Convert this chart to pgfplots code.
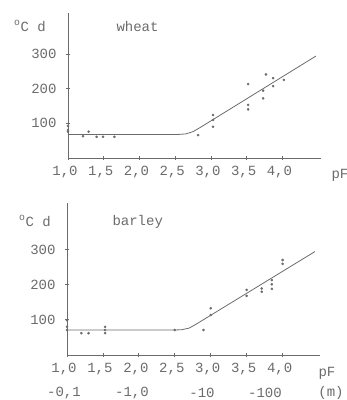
\documentclass[border=0pt]{standalone}
\usepackage{fontspec}
\setmainfont{Liberation Mono}
\usepackage{pgfplots}
\pgfplotsset{compat=1.18}
\definecolor{ink}{gray}{0.42}
\pgfplotsset{myax/.style={
  scale only axis, width=253pt,
  axis x line=bottom, axis y line=left,
  axis line style={ink, line width=0.8pt, -},
  xmin=1, ymin=0, clip=false,
  xtick={1,1.5,2,2.5,3,3.5,4},
  xticklabels={{1,0},{1,5},{2,0},{2,5},{3,0},{3,5},{4,0}},
  ytick={100,200,300},
  tick align=center, major tick length=4pt,
  tick style={ink, line width=0.8pt},
  /pgf/number format/assume math mode=true,
  every tick label/.append style={font=\fontsize{14}{16}\selectfont, text=ink},
  xticklabel style={xshift=-3pt, yshift=-3pt},
  yticklabel style={xshift=-6pt},
}}
\begin{document}
\begin{tikzpicture}[font=\fontsize{14}{16}\selectfont]
\useasboundingbox (0,0) rectangle (347pt,400pt);
% wheat
\begin{axis}[myax, at={(68pt,242pt)}, anchor=south west, height=145pt, xmax=4.54, ymax=418]
\addplot[ink, line width=0.8pt] coordinates {(1,68) (2.55,68) (2.65,69.5) (2.75,76) (2.85,88) (4.47,294)};
\addplot[only marks, mark=*, mark size=1.1pt, ink] coordinates {
(1.0,92) (1.0,81) (1.0,76) (1.21,63) (1.29,76) (1.40,61) (1.49,61) (1.65,61)
(2.82,66) (3.03,124) (3.03,110) (3.03,90)
(3.52,213) (3.52,153) (3.52,140)
(3.73,172) (3.77,241) (3.73,194)
(3.87,230) (3.87,207) (4.02,225)};
\end{axis}
% barley
\begin{axis}[myax, at={(67pt,45pt)}, anchor=south west, height=152pt, xmax=4.52, ymax=432]
\addplot[ink, line width=0.8pt] coordinates {(1,71) (2.5,71) (2.6,72) (2.7,76.5) (2.8,88) (4.45,294)};
\addplot[only marks, mark=*, mark size=1.1pt, ink] coordinates {
(1.0,99) (1.0,80) (1.0,71) (1.2,62) (1.3,62) (1.53,80) (1.53,71) (1.53,62)
(2.5,71) (2.9,71) (3.0,133) (3.0,114)
(3.5,185) (3.5,168) (3.71,189) (3.71,180)
(3.85,213) (3.85,201) (3.85,188) (4.0,270) (4.0,259)};
\end{axis}
\begin{scope}[text=ink]
\node at (30pt,374pt) {\textsuperscript{o}C d};
\node[anchor=west] at (113pt,374pt) {wheat};
\node at (340pt,225pt) {pF};
\node at (35pt,179pt) {\textsuperscript{o}C d};
\node[anchor=west] at (109pt,178pt) {barley};
\node at (327pt,27pt) {pF};
\node at (64pt,7pt) {-0,1};
\node at (132pt,7pt) {-1,0};
\node at (202pt,7pt) {-10};
\node at (265pt,7pt) {-100};
\node at (331pt,7pt) {(m)};
\end{scope}
\end{tikzpicture}
\end{document}
